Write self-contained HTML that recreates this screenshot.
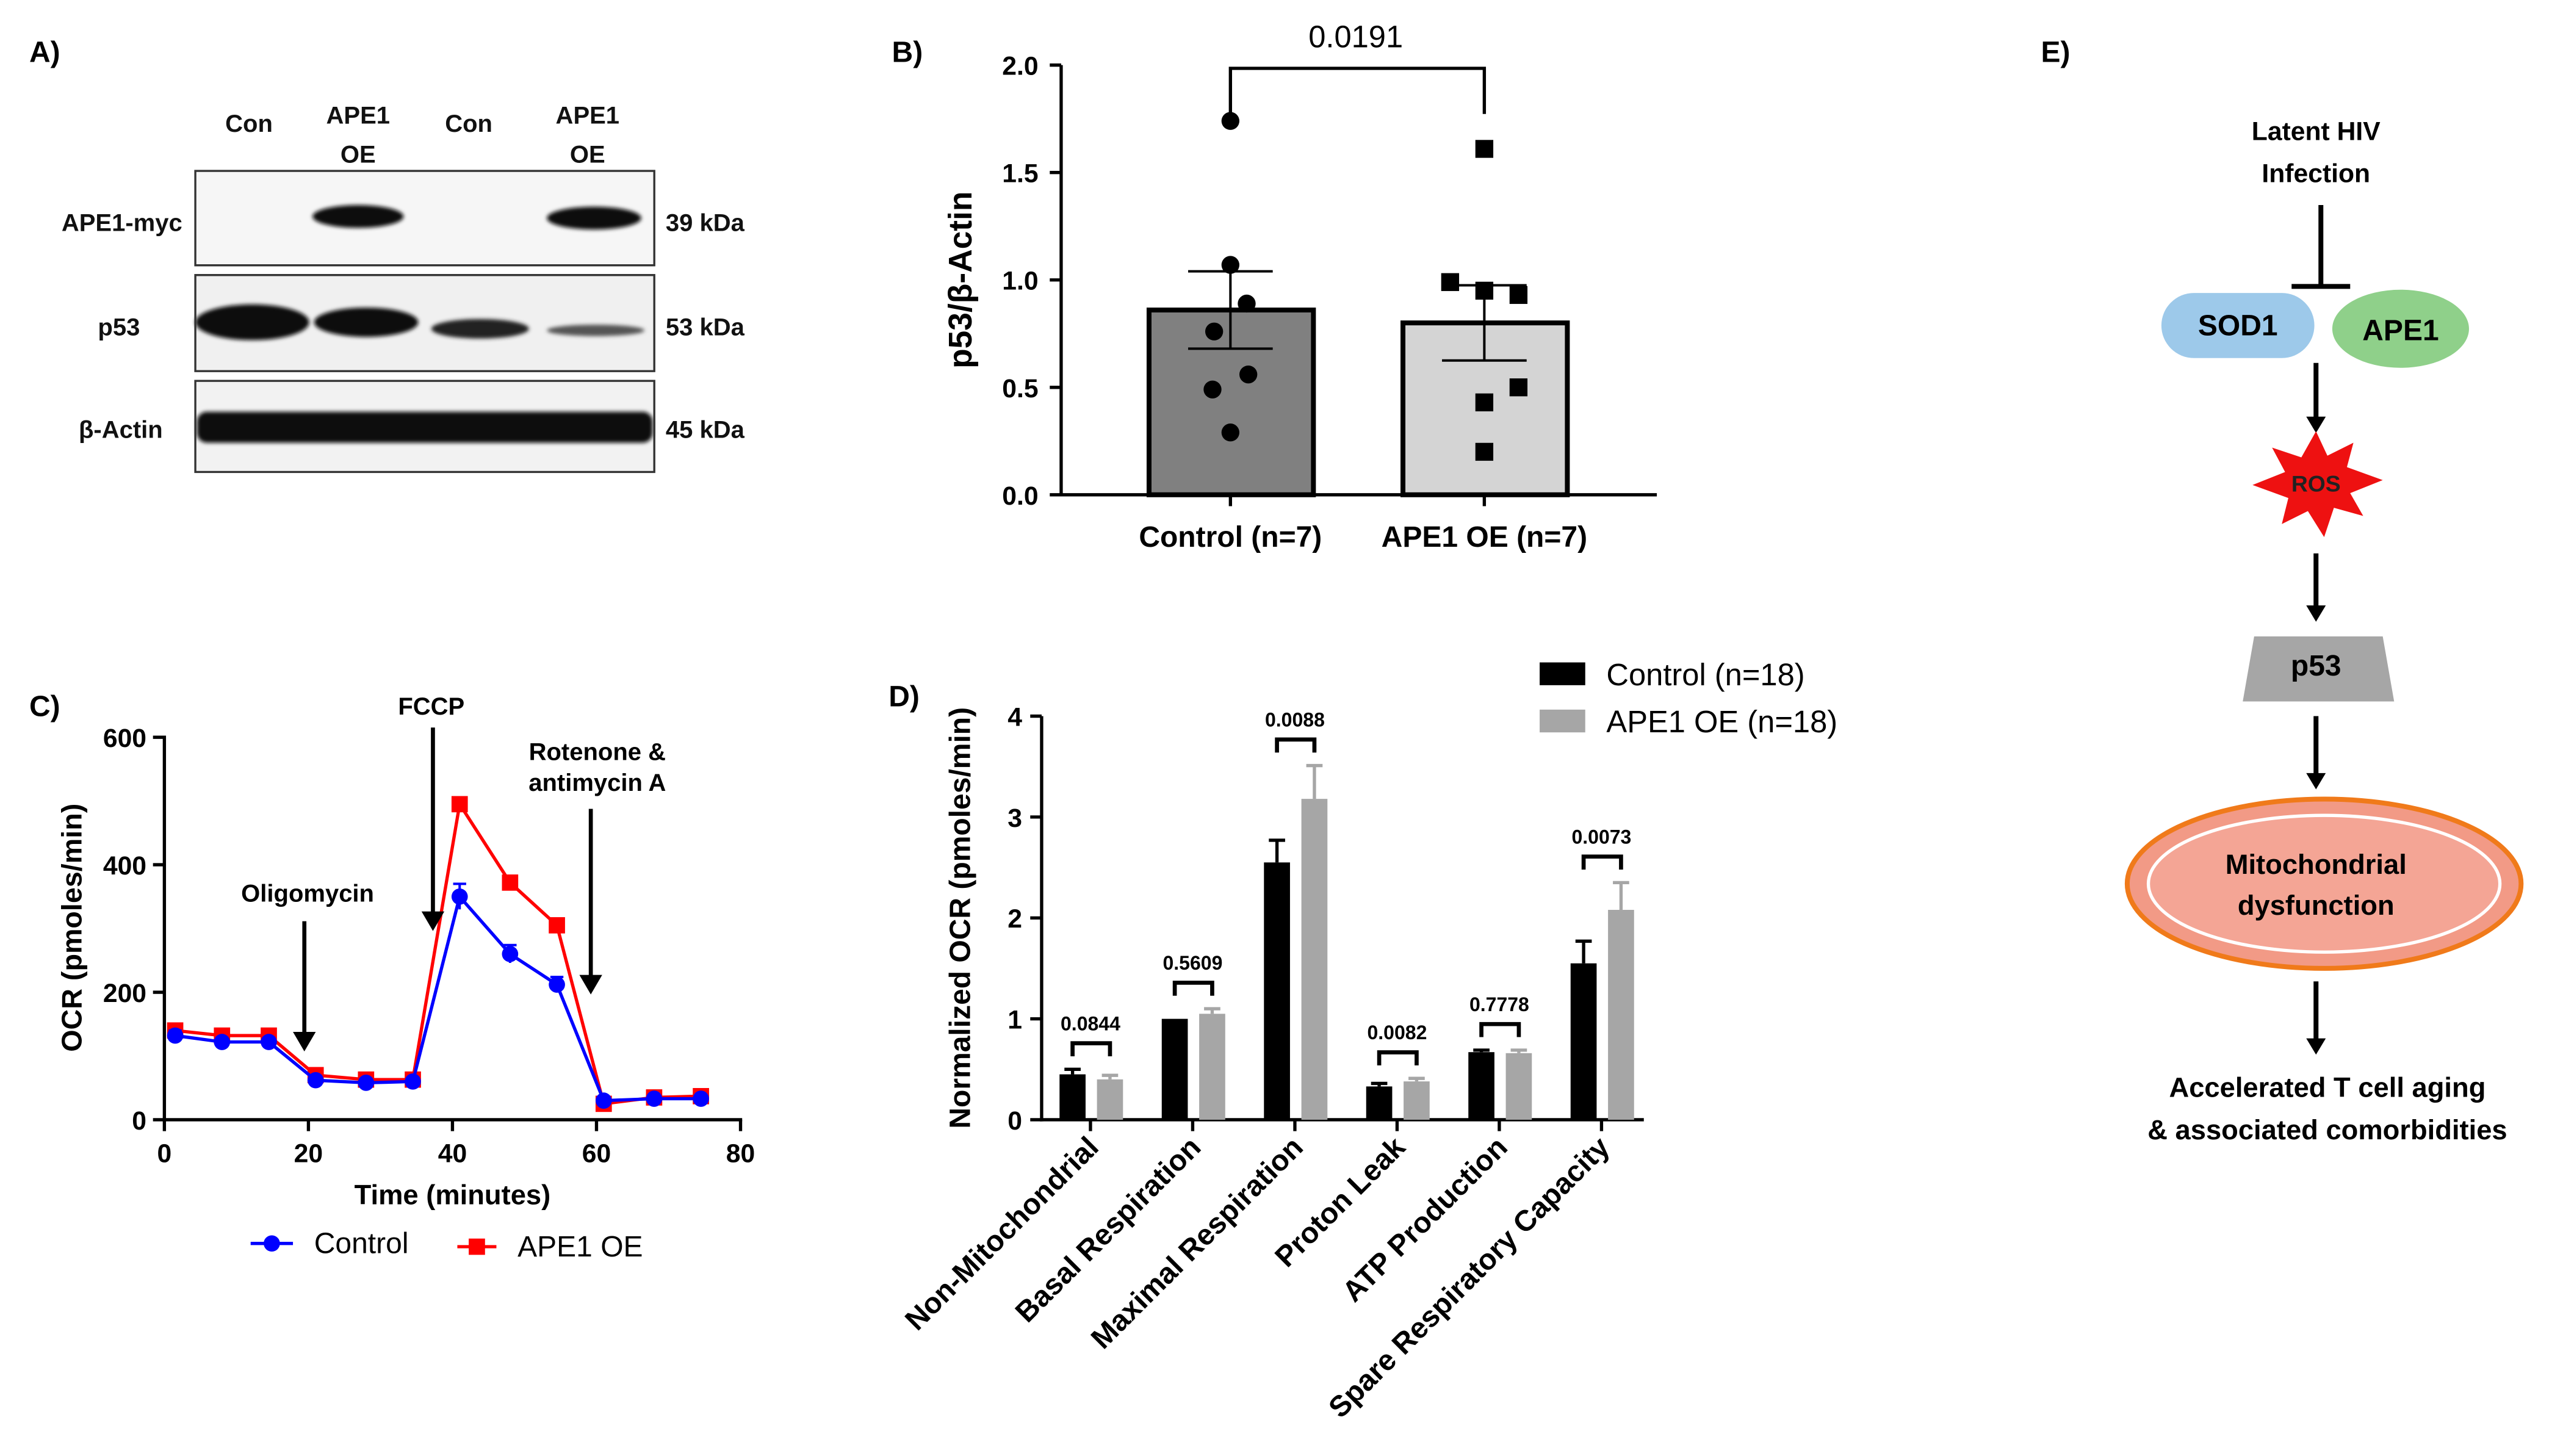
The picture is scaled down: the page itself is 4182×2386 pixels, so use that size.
<!DOCTYPE html>
<html><head><meta charset="utf-8"><style>
html,body{margin:0;padding:0;background:#fff;}
svg{display:block;font-family:"Liberation Sans",sans-serif;}
.b{font-weight:bold;}
</style></head><body>
<svg id="fig" width="4182" height="2386" viewBox="0 0 1568 894.6" preserveAspectRatio="none" xmlns="http://www.w3.org/2000/svg">
<defs>
<filter id="blur1"><feGaussianBlur stdDeviation="1.2"/></filter>
</defs>
<!-- Panel A -->
<g>
<text x="18" y="38" font-size="18" class="b">A)</text>
<g font-size="15" class="b" text-anchor="middle" fill="#111">
<text x="153" y="81">Con</text>
<text x="220" y="76">APE1</text><text x="220" y="100">OE</text>
<text x="288" y="81">Con</text>
<text x="361" y="76">APE1</text><text x="361" y="100">OE</text>
</g>
<g font-size="15" class="b" text-anchor="end" fill="#111">
<text x="112" y="142">APE1-myc</text>
<text x="86" y="206">p53</text>
<text x="100" y="269">β-Actin</text>
</g>
<g font-size="15" class="b" fill="#111">
<text x="409" y="142">39 kDa</text>
<text x="409" y="206">53 kDa</text>
<text x="409" y="269">45 kDa</text>
</g>
<rect x="120" y="105" width="282" height="58" fill="#f6f6f6" stroke="#333" stroke-width="1.2"/>
<rect x="120" y="169" width="282" height="59" fill="#f0f0f0" stroke="#333" stroke-width="1.2"/>
<rect x="120" y="234" width="282" height="56" fill="#f2f2f2" stroke="#333" stroke-width="1.2"/>
<g filter="url(#blur1)" fill="#111">
<ellipse cx="220" cy="133" rx="28" ry="7"/>
<ellipse cx="365" cy="134" rx="29" ry="7"/>
<ellipse cx="155" cy="198" rx="35" ry="11"/>
<ellipse cx="225" cy="198" rx="32" ry="9"/>
<ellipse cx="295" cy="202" rx="30" ry="6" fill="#222"/>
<ellipse cx="366" cy="203" rx="30" ry="3.5" fill="#555"/>
<rect x="121" y="253" width="280" height="19" rx="6"/>
</g>
<rect x="120" y="105" width="282" height="58" fill="none" stroke="#333" stroke-width="1.2"/>
<rect x="120" y="169" width="282" height="59" fill="none" stroke="#333" stroke-width="1.2"/>
<rect x="120" y="234" width="282" height="56" fill="none" stroke="#333" stroke-width="1.2"/>
</g>

<!-- Panel B -->
<g id="panelB">
<text x="548" y="38" font-size="18" class="b">B)</text>
<text x="597" y="172" font-size="20" class="b" transform="rotate(-90 597 172)" text-anchor="middle">p53/β-Actin</text>
</g>

<!-- Panel C -->
<g id="panelC">
<text x="18" y="440" font-size="18" class="b">C)</text>
<text x="50" y="570" font-size="17.5" class="b" transform="rotate(-90 50 570)" text-anchor="middle">OCR (pmoles/min)</text>
<text x="278" y="740" font-size="17" class="b" text-anchor="middle">Time (minutes)</text>
</g>

<!-- Panel D -->
<g id="panelD">
<text x="546" y="434" font-size="18" class="b">D)</text>
<text x="596" y="564" font-size="18" class="b" transform="rotate(-90 596 564)" text-anchor="middle">Normalized OCR (pmoles/min)</text>
<rect x="946" y="407" width="28" height="14" fill="#000"/>
<text x="987" y="421" font-size="19">Control (n=18)</text>
<rect x="946" y="436" width="28" height="14" fill="#a6a6a6"/>
<text x="987" y="450" font-size="19">APE1 OE (n=18)</text>
</g>

<!-- Panel E -->
<g font-weight="bold" text-anchor="middle">
<text x="1254" y="38" font-size="18" text-anchor="start">E)</text>
<text x="1423" y="86" font-size="16">Latent HIV</text>
<text x="1423" y="112" font-size="16">Infection</text>
<line x1="1426" y1="126" x2="1426" y2="176" stroke="#000" stroke-width="3"/>
<line x1="1408" y1="176" x2="1444" y2="176" stroke="#000" stroke-width="3"/>
<rect x="1328" y="180" width="94" height="40" rx="20" fill="#9dc9ea"/>
<text x="1375" y="206" font-size="18">SOD1</text>
<ellipse cx="1475" cy="202" rx="42" ry="24" fill="#8fd08a"/>
<text x="1475" y="209" font-size="18">APE1</text>
<line x1="1423" y1="223" x2="1423" y2="258" stroke="#000" stroke-width="3"/>
<polygon points="1417,256 1429,256 1423,266" fill="#000"/>
<polygon fill="#ee1111" points="1423,265 1430,280 1446,272 1442,287 1464,295 1444,303 1452,317 1434,312 1428,330 1418,314 1402,322 1406,306 1384,298 1404,290 1396,275 1414,281"/>
<text x="1423" y="302" font-size="14" fill="#222">ROS</text>
<line x1="1423" y1="340" x2="1423" y2="374" stroke="#000" stroke-width="3"/>
<polygon points="1417,372 1429,372 1423,382" fill="#000"/>
<polygon points="1385,391 1464,391 1471,431 1378,431" fill="#a6a6a6"/>
<text x="1423" y="415" font-size="18">p53</text>
<line x1="1423" y1="440" x2="1423" y2="477" stroke="#000" stroke-width="3"/>
<polygon points="1417,475 1429,475 1423,485" fill="#000"/>
<ellipse cx="1428" cy="543" rx="121" ry="52" fill="#f29a86" stroke="#f07a1a" stroke-width="3"/>
<ellipse cx="1428" cy="543" rx="108" ry="42" fill="#f4a595" stroke="#fff" stroke-width="2"/>
<text x="1423" y="537" font-size="17">Mitochondrial</text>
<text x="1423" y="562" font-size="17">dysfunction</text>
<line x1="1423" y1="603" x2="1423" y2="640" stroke="#000" stroke-width="3"/>
<polygon points="1417,638 1429,638 1423,648" fill="#000"/>
<text x="1430" y="674" font-size="17">Accelerated T cell aging</text>
<text x="1430" y="700" font-size="17">&amp; associated comorbidities</text>
</g>
</svg>
<script>
var NS="http://www.w3.org/2000/svg";
function mk(p,tag,a,txt){var e=document.createElementNS(NS,tag);for(var k in a)e.setAttribute(k,a[k]);if(txt!==undefined)e.textContent=txt;p.appendChild(e);return e;}

// ---- Panel B data ----
var bCategories=["Control (n=7)","APE1 OE (n=7)"];
var bMeans=[0.86,0.80];
var bSem=[0.18,0.175];
var bControlPoints=[1.74,1.07,0.89,0.76,0.56,0.49,0.29];
var bApePoints=[1.61,0.99,0.95,0.93,0.50,0.43,0.20];
var bTicks=[0,0.5,1.0,1.5,2.0];
var bPValue="0.0191";

// ---- Panel C data ----
var cTimes=[1.5,8,14.5,21,28,34.5,41,48,54.5,61,68,74.5];
var cControl=[132,122,122,62,58,60,350,260,212,30,33,33];
var cControlErr=[8,6,6,6,6,5,20,14,12,4,4,4];
var cApe=[140,132,132,70,63,63,495,372,305,25,35,37];
var cXTicks=[0,20,40,60,80];
var cYTicks=[0,200,400,600];

// ---- Panel D data ----
var dCategories=["Non-Mitochondrial","Basal Respiration","Maximal Respiration","Proton Leak","ATP Production","Spare Respiratory Capacity"];
var dControl=[0.45,1.0,2.55,0.33,0.67,1.55];
var dControlErr=[0.05,0,0.22,0.03,0.02,0.22];
var dApe=[0.40,1.05,3.18,0.38,0.66,2.08];
var dApeErr=[0.04,0.05,0.33,0.03,0.03,0.27];
var dPValues=["0.0844","0.5609","0.0088","0.0082","0.7778","0.0073"];
var dYTicks=[0,1,2,3,4];

// Panel B
(function(){
var g=document.getElementById('panelB');
function y(v){return 304-132*v;}
var xc=[756,912];
mk(g,'line',{x1:652,y1:40,x2:652,y2:305,stroke:'#000','stroke-width':2});
mk(g,'line',{x1:651,y1:304,x2:1018,y2:304,stroke:'#000','stroke-width':2});
bTicks.forEach(function(t){
 mk(g,'line',{x1:645,y1:y(t),x2:652,y2:y(t),stroke:'#000','stroke-width':2});
 var e=mk(g,'text',{x:638,y:y(t)+6,'font-size':16,'font-weight':'bold','text-anchor':'end'},t.toFixed(1));
 
 
});
var fills=['#808080','#d4d4d4'];
bMeans.forEach(function(m,i){
 var r=mk(g,'rect',{x:xc[i]-50,y:y(m),width:101,height:y(0)-y(m),fill:fills[i],stroke:'#000','stroke-width':3});
 
 
 mk(g,'line',{x1:xc[i],y1:y(m+bSem[i]),x2:xc[i],y2:y(m-bSem[i]),stroke:'#000','stroke-width':1.5});
 mk(g,'line',{x1:xc[i]-26,y1:y(m+bSem[i]),x2:xc[i]+26,y2:y(m+bSem[i]),stroke:'#000','stroke-width':1.5});
 mk(g,'line',{x1:xc[i]-26,y1:y(m-bSem[i]),x2:xc[i]+26,y2:y(m-bSem[i]),stroke:'#000','stroke-width':1.5});
 mk(g,'line',{x1:xc[i],y1:304,x2:xc[i],y2:311,stroke:'#000','stroke-width':2});
 var t=mk(g,'text',{x:xc[i],y:336,'font-size':18,'font-weight':'bold','text-anchor':'middle'},bCategories[i]);
 
 
});
var offs=[0,0,10,-10,11,-11,0];
bControlPoints.forEach(function(v,j){
 var c=mk(g,'circle',{cx:xc[0]+offs[j],cy:y(v),r:5.5,fill:'#000'});
 
 
});
var offs2=[0,-21,0,21,21,0,0];
bApePoints.forEach(function(v,j){
 var r=mk(g,'rect',{x:xc[1]+offs2[j]-5.5,y:y(v)-5.5,width:11,height:11,fill:'#000'});
 
 
});
mk(g,'polyline',{points:xc[0]+',70 '+xc[0]+',42 '+xc[1]+',42 '+xc[1]+',70',fill:'none',stroke:'#000','stroke-width':2});
var p=mk(g,'text',{x:833,y:29,'font-size':19,'text-anchor':'middle'},bPValue);


})();

// Panel C
(function(){
var g=document.getElementById('panelC');
function x(t){return 101+4.425*t;}
function y(v){return 688-0.3917*v;}
mk(g,'line',{x1:101,y1:452,x2:101,y2:689,stroke:'#000','stroke-width':2});
mk(g,'line',{x1:100,y1:688,x2:456,y2:688,stroke:'#000','stroke-width':2});
cYTicks.forEach(function(t){
 mk(g,'line',{x1:94,y1:y(t),x2:101,y2:y(t),stroke:'#000','stroke-width':2});
 var e=mk(g,'text',{x:90,y:y(t)+6,'font-size':16,'font-weight':'bold','text-anchor':'end'},t);
 
 
});
cXTicks.forEach(function(t){
 mk(g,'line',{x1:x(t),y1:688,x2:x(t),y2:695,stroke:'#000','stroke-width':2});
 var e=mk(g,'text',{x:x(t),y:714,'font-size':16,'font-weight':'bold','text-anchor':'middle'},t);
 
 
});
var pa=cTimes.map(function(t,i){return x(t)+','+y(cApe[i]);}).join(' ');
var l=mk(g,'polyline',{points:pa,fill:'none',stroke:'#ff0000','stroke-width':2});


cTimes.forEach(function(t,i){
 var r=mk(g,'rect',{x:x(t)-5,y:y(cApe[i])-5,width:10,height:10,fill:'#ff0000'});
 
 
});
var pc=cTimes.map(function(t,i){return x(t)+','+y(cControl[i]);}).join(' ');
var l2=mk(g,'polyline',{points:pc,fill:'none',stroke:'#0000ff','stroke-width':2});


cTimes.forEach(function(t,i){
 mk(g,'line',{x1:x(t),y1:y(cControl[i]+cControlErr[i]),x2:x(t),y2:y(cControl[i]-cControlErr[i]),stroke:'#0000ff','stroke-width':1.5});
 mk(g,'line',{x1:x(t)-4,y1:y(cControl[i]+cControlErr[i]),x2:x(t)+4,y2:y(cControl[i]+cControlErr[i]),stroke:'#0000ff','stroke-width':1.5});
 var c=mk(g,'circle',{cx:x(t),cy:y(cControl[i]),r:5,fill:'#0000ff'});
 
 
});
function arrow(xx,y1,y2){mk(g,'line',{x1:xx,y1:y1,x2:xx,y2:y2-8,stroke:'#000','stroke-width':2.5});mk(g,'polygon',{points:(xx-7)+','+(y2-12)+' '+(xx+7)+','+(y2-12)+' '+xx+','+y2,fill:'#000'});}
arrow(187,566,646);arrow(266,447,572);arrow(363,497,611);
var a=mk(g,'text',{x:189,y:554,'font-size':15,'font-weight':'bold','text-anchor':'middle'},'Oligomycin');
var b=mk(g,'text',{x:265,y:439,'font-size':15,'font-weight':'bold','text-anchor':'middle'},'FCCP');
var c=mk(g,'text',{x:367,y:467,'font-size':15,'font-weight':'bold','text-anchor':'middle'},'Rotenone &');
mk(g,'text',{x:367,y:486,'font-size':15,'font-weight':'bold','text-anchor':'middle'},'antimycin A');
mk(g,'line',{x1:154,y1:764,x2:180,y2:764,stroke:'#0000ff','stroke-width':2});
mk(g,'circle',{cx:167,cy:764,r:5,fill:'#0000ff'});
var lg=mk(g,'text',{x:193,y:770,'font-size':18},'Control');
mk(g,'line',{x1:281,y1:766,x2:305,y2:766,stroke:'#ff0000','stroke-width':2});
mk(g,'rect',{x:288,y:761,width:10,height:10,fill:'#ff0000'});
var lg2=mk(g,'text',{x:318,y:772,'font-size':18},'APE1 OE');
})();

// Panel D
(function(){
var g=document.getElementById('panelD');
function y(v){return 688-62*v;}
var x0=668, step=62.8;
mk(g,'line',{x1:640,y1:440,x2:640,y2:689,stroke:'#000','stroke-width':2});
mk(g,'line',{x1:639,y1:688,x2:1010,y2:688,stroke:'#000','stroke-width':2});
dYTicks.forEach(function(t){
 mk(g,'line',{x1:633,y1:y(t),x2:640,y2:y(t),stroke:'#000','stroke-width':2});
 var e=mk(g,'text',{x:628,y:y(t)+6,'font-size':16,'font-weight':'bold','text-anchor':'end'},t);
 
 
});
dCategories.forEach(function(cat,i){
 var cx=x0+i*step;
 var r1=mk(g,'rect',{x:cx-17,y:y(dControl[i]),width:16,height:y(0)-y(dControl[i]),fill:'#000'});
 
 
 var r2=mk(g,'rect',{x:cx+6,y:y(dApe[i]),width:16,height:y(0)-y(dApe[i]),fill:'#a6a6a6'});
 
 
 if(dControlErr[i]>0){mk(g,'line',{x1:cx-9,y1:y(dControl[i]),x2:cx-9,y2:y(dControl[i]+dControlErr[i]),stroke:'#000','stroke-width':2});mk(g,'line',{x1:cx-14,y1:y(dControl[i]+dControlErr[i]),x2:cx-4,y2:y(dControl[i]+dControlErr[i]),stroke:'#000','stroke-width':2});}
 mk(g,'line',{x1:cx+14,y1:y(dApe[i]),x2:cx+14,y2:y(dApe[i]+dApeErr[i]),stroke:'#a6a6a6','stroke-width':2});
 mk(g,'line',{x1:cx+9,y1:y(dApe[i]+dApeErr[i]),x2:cx+19,y2:y(dApe[i]+dApeErr[i]),stroke:'#a6a6a6','stroke-width':2});
 var top=Math.max(dControl[i]+dControlErr[i],dApe[i]+dApeErr[i]);
 var by=y(top)-16;
 mk(g,'polyline',{points:(cx-9)+','+(by+8)+' '+(cx-9)+','+by+' '+(cx+14)+','+by+' '+(cx+14)+','+(by+8),fill:'none',stroke:'#000','stroke-width':2.5});
 var p=mk(g,'text',{x:cx+2,y:by-8,'font-size':12,'font-weight':'bold','text-anchor':'middle'},dPValues[i]);
 
 
 mk(g,'line',{x1:cx+2,y1:688,x2:cx+2,y2:695,stroke:'#000','stroke-width':2});
 var t=mk(g,'text',{x:cx+8,y:706,'font-size':18,'font-weight':'bold','text-anchor':'end',transform:'rotate(-45 '+(cx+8)+' 706)'},cat);
 
 
});
})();
</script>
</body></html>
